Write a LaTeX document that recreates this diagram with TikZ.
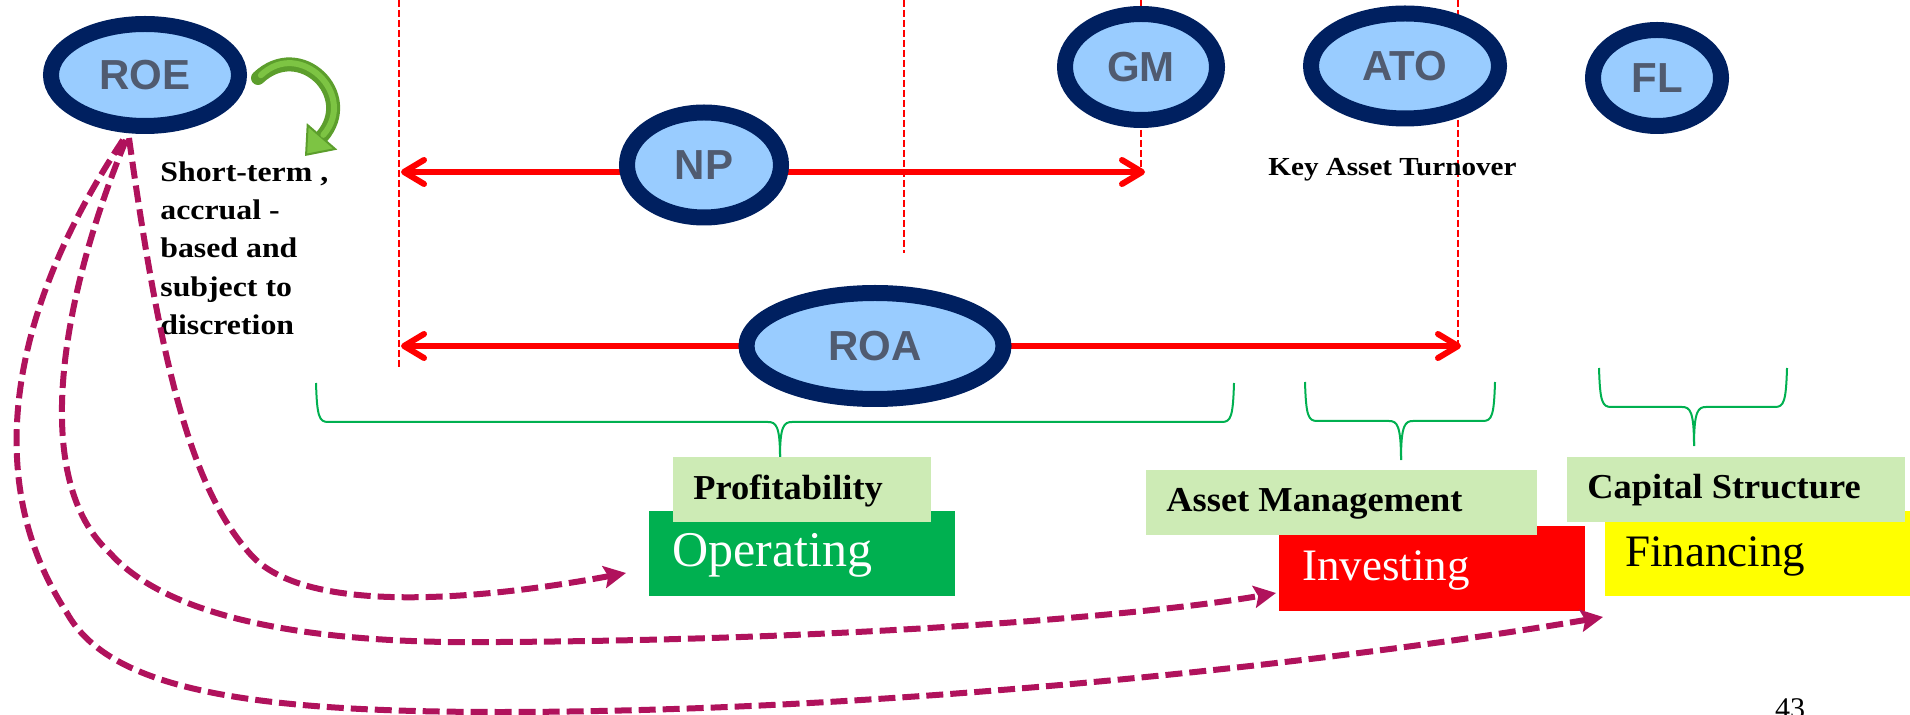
\documentclass[tikz,border=0pt]{standalone}
\usepackage{fontspec}
\setmainfont{Liberation Serif}
\newfontfamily\arialfont{Liberation Sans}
\newfontfamily\widefont[FakeStretch=1.12]{Liberation Serif}
\newfontfamily\semiwidefont[FakeStretch=1.04]{Liberation Serif}
\usetikzlibrary{shapes.geometric,arrows.meta,calc}
\definecolor{navy}{RGB}{0,32,96}
\definecolor{lightblue}{RGB}{153,204,255}
\definecolor{labelgray}{RGB}{80,91,112}
\definecolor{magentaline}{RGB}{176,18,92}
\definecolor{bracegreen}{RGB}{0,176,80}
\definecolor{opgreen}{RGB}{0,176,80}
\definecolor{palegreen}{RGB}{205,235,181}
\definecolor{finyellow}{RGB}{255,255,0}
\definecolor{garrowdark}{RGB}{92,158,44}
\definecolor{garrowlight}{RGB}{125,196,67}
\newcommand{\mybrk}[6]{%
 \draw[brace] (#1,#3) .. controls (#1+1,#4-6) and (#1+3,#4) .. (#1+12,#4) -- (#5-12,#4) .. controls (#5-4,#4) and (#5,#4+4) .. (#5,#6);
 \draw[brace] (#2,#3) .. controls (#2-1,#4-6) and (#2-3,#4) .. (#2-12,#4) -- (#5+12,#4) .. controls (#5+4,#4) and (#5,#4+4) .. (#5,#6);
}
\begin{document}
\begin{tikzpicture}[x=0.5pt,y=-0.5pt,
  metric/.style={ellipse, draw=navy, line width=8pt, fill=lightblue, inner sep=0pt, text=labelgray, font=\arialfont\bfseries\fontsize{21}{21}\selectfont},
  vdash/.style={draw=red, line width=1pt, dash pattern=on 3.5pt off 1.5pt},
  redarrow/.style={draw=red, line width=3pt, {Straight Barb[length=10pt,width=12pt,round]}-{Straight Barb[length=10pt,width=12pt,round]}},
  magarrow/.style={draw=magentaline, line width=3pt, dash pattern=on 8.5pt off 3.5pt, -{Stealth[length=11pt,width=11pt,inset=2pt]}},
  brace/.style={draw=bracegreen, line width=1pt},
  box/.style={rectangle, inner sep=0pt, anchor=north west},
  boldlab/.style={anchor=base west, inner sep=0pt, font=\semiwidefont\bfseries\fontsize{17.5}{17.5}\selectfont},
  biglab/.style={anchor=base west, inner sep=0pt, font=\fontsize{22.5}{22.5}\selectfont},
  sidetext/.style={anchor=base west, inner sep=0pt, font=\widefont\bfseries\fontsize{14.2}{14.2}\selectfont},
]
\useasboundingbox (0,0) rectangle (1910,715);

% dashed red guide lines
\coordinate (d1t) at (399,0); \coordinate (d1b) at (399,368);
\coordinate (d2t) at (904,0); \coordinate (d2b) at (904,253);
\coordinate (d3t) at (1141,0); \coordinate (d3b) at (1141,175);
\coordinate (d4t) at (1458,0); \coordinate (d4b) at (1458,347);
\draw[vdash] (d1t) -- (d1b);
\draw[vdash] (d2t) -- (d2b);
\draw[vdash] (d3t) -- (d3b);
\draw[vdash] (d4t) -- (d4b);

% red double arrows
\coordinate (npL) at (401,172); \coordinate (npR) at (1145,172);
\coordinate (roaL) at (401,346); \coordinate (roaR) at (1461,346);
\draw[redarrow] (npL) -- (npR);
\draw[redarrow] (roaL) -- (roaR);

% metric ellipses
\node[metric, minimum width=94pt, minimum height=51pt] (roe) at (145,75) {ROE};
\node[metric, minimum width=77pt, minimum height=52.5pt] (np) at (704,165) {NP};
\node[metric, minimum width=76pt, minimum height=53pt] (gm) at (1141,67) {GM};
\node[metric, minimum width=94pt, minimum height=52.5pt] (ato) at (1405,66) {ATO};
\node[metric, minimum width=64pt, minimum height=48pt] (fl) at (1657,78) {FL};
\node[metric, minimum width=128.5pt, minimum height=53pt] (roa) at (875,346) {ROA};

% green curved arrow
\coordinate (g1) at (258,78); \coordinate (g2) at (305,156);
\draw[line width=7pt, draw=garrowdark, line cap=round, -{Triangle[length=13pt,width=20pt,fill=garrowlight,line width=1pt]}] (g1) .. controls (300,38) and (358,95) .. (g2);
\draw[line width=3pt, draw=garrowlight, line cap=round, shorten >=14pt, shorten <=2pt] (g1) .. controls (300,38) and (358,95) .. (g2);

% side text
\node[sidetext] (st1) at (160,182) {Short-term ,};
\node[sidetext] (st2) at (160,220) {accrual -};
\node[sidetext] (st3) at (160,258) {based and};
\node[sidetext] (st4) at (160,297) {subject to};
\node[sidetext] (st5) at (160,335) {discretion};
\node[anchor=base west, inner sep=0pt, font=\widefont\bfseries\fontsize{13}{13}\selectfont] (kat) at (1268,176) {Key Asset Turnover};

% brackets
\mybrk{316}{1234}{383}{422}{780}{457}
\mybrk{1305}{1495}{382}{421}{1401}{460}
\mybrk{1599}{1787}{368}{407}{1694}{446}

% boxes
\node[box, fill=opgreen, minimum width=153pt, minimum height=42.5pt] (opbox) at (649,511) {};
\node[box, fill=palegreen, minimum width=129pt, minimum height=32.5pt] (profbox) at (673,457) {};
\node[box, fill=red, minimum width=153pt, minimum height=42.5pt] (invbox) at (1279,526) {};
\node[box, fill=palegreen, minimum width=195.5pt, minimum height=32.5pt] (ambox) at (1146,470) {};
\node[box, fill=finyellow, minimum width=152.5pt, minimum height=42.5pt] (finbox) at (1605,511) {};
\node[box, fill=palegreen, minimum width=169pt, minimum height=32.5pt] (csbox) at (1567,457) {};

\node[biglab, text=white, font=\fontsize{25}{25}\selectfont] (optext) at (672,567) {Operating};
\node[boldlab] (proftext) at (693,500) {Profitability};
\node[biglab, text=white] (invtext) at (1302,580) {Investing};
\node[boldlab] (amtext) at (1166,512) {Asset Management};
\node[biglab] (fintext) at (1625,567) {Financing};
\node[boldlab] (cstext) at (1587,499) {Capital Structure};

% magenta dashed arrows
\coordinate (s1) at ($(roe.south)+(-16,4)$);
\coordinate (s2) at ($(roe.south)+(-19,6)$);
\coordinate (s3) at ($(roe.south)+(-22,6)$);
\coordinate (e1) at (626,573);
\coordinate (e2) at (1276,593);
\coordinate (e3) at (1603,617);
\draw[magarrow] (s1) .. controls (160,360) and (190,490) .. (253,557) .. controls (310,615) and (480,600) .. (e1);
\draw[magarrow] (s2) .. controls (60,300) and (30,480) .. (110,553) .. controls (165,615) and (300,645) .. (500,642) .. controls (850,640) and (1150,615) .. (e2);
\draw[magarrow] (s3) .. controls (10,310) and (-20,480) .. (67,613) .. controls (110,690) and (250,712) .. (500,712) .. controls (900,712) and (1350,660) .. (e3);

% page number
\node[anchor=north, inner sep=0pt, font=\fontsize{15}{15}\selectfont] (pg) at (1790,698) {43};
\end{tikzpicture}
\end{document}
